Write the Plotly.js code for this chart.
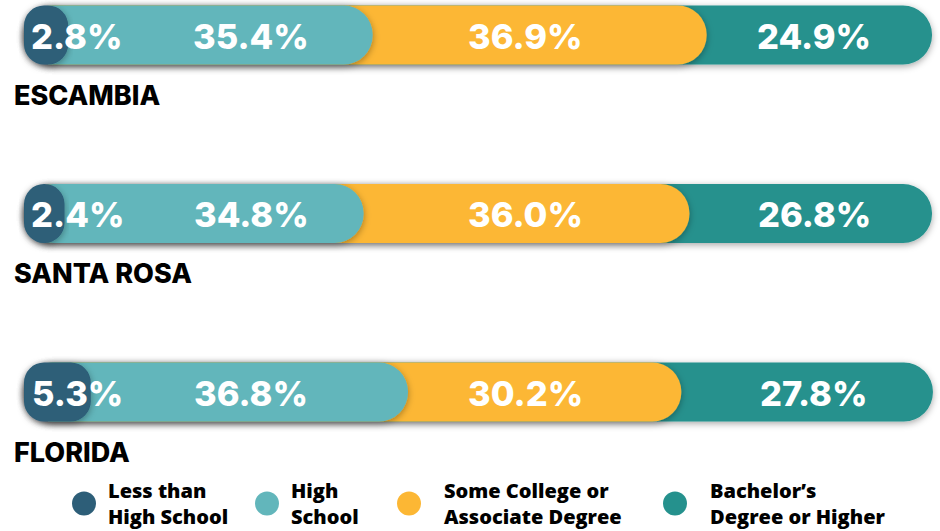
<!DOCTYPE html>
<html>
<head>
<meta charset="utf-8">
<script src="https://cdn.plot.ly/plotly-3.0.1.min.js"></script>
<style>
  html, body { margin: 0; padding: 0; background: #ffffff; }
  #chart { width: 940px; height: 531px; }
</style>
</head>
<body>
<div id="chart"></div>
<script>
// ---- data ----
const regions = ["ESCAMBIA", "SANTA ROSA", "FLORIDA"];
const lessThanHS = [2.8, 2.4, 5.3];
const highSchool = [35.4, 34.8, 36.8];
const someCollege = [36.9, 36.0, 30.2];
const bachelors = [24.9, 26.8, 27.8];
const seriesNames = ["Less than<br>High School", "High<br>School", "Some College or<br>Associate Degree", "Bachelor’s<br>Degree or Higher"];

// ---- style ----
const colors = ["#2d5e78", "#62b6bb", "#fcb734", "#25918d"];
const series = [lessThanHS, highSchool, someCollege, bachelors];
const leftPad = 0.33;      // rounded left cap start (axis units)
const darkCap = 1.75;      // visual allowance for the small first cap
const labelCols = [77, 251, 525, 814];   // px columns for value labels
const W = 940, H = 531;

// cumulative ends per segment
const cum = series.map((s, j) => s.map((v, i) => {
  let t = 0; for (let k = 0; k <= j; k++) t += series[k][i]; return t;
}));

const data = [];
// draw longest first so shorter segments sit on top
for (let j = 3; j >= 0; j--) {
  const ends = cum[j].map(v => v + leftPad + (j === 0 ? darkCap : 0));
  data.push({
    type: "bar",
    orientation: "h",
    y: regions,
    x: ends,
    base: regions.map(() => -leftPad),
    width: 0.33,
    marker: { color: colors[j], cornerradius: j === 0 ? 20 : 30, line: { width: 0 } },
    showlegend: false,
    hoverinfo: "skip"
  });
}
// legend entries
const legendIds = ["legend", "legend2", "legend3", "legend4"];
for (let j = 0; j < 4; j++) {
  data.push({
    type: "scatter", mode: "markers", x: [null], y: [null],
    name: seriesNames[j],
    marker: { color: colors[j], size: 16 },
    legend: legendIds[j], showlegend: true, hoverinfo: "skip"
  });
}

const annotations = [];
regions.forEach((r, i) => {
  series.forEach((s, j) => {
    annotations.push({
      x: labelCols[j] / W, xref: "paper", y: r, yref: "y", yshift: -1,
      text: s[i].toFixed(1) + "%", showarrow: false, xanchor: "center", yanchor: "middle",
      font: { family: "Inter, 'Open Sans', sans-serif", size: 34.5, color: "#ffffff", weight: 800 }
    });
  });
  annotations.push({
    x: 12 / W, xref: "paper", y: r, yref: "y", yshift: -60,
    text: r, showarrow: false, xanchor: "left", yanchor: "middle",
    font: { family: "Inter, 'Open Sans', sans-serif", size: 27, color: "#000000", weight: 800 }
  });
});

const legendX = [60, 243, 374, 640];
const legendItemW = [38, 38, 60, 60];
const legendFont = { family: "'Open Sans', Roboto, sans-serif", size: 20, color: "#000000", weight: 800 };
const layout = {
  width: W, height: H,
  margin: { l: 0, r: 0, t: 0, b: 0 },
  paper_bgcolor: "#ffffff", plot_bgcolor: "#ffffff",
  barmode: "overlay",
  xaxis: { range: [-27 / 9.05, (W - 27) / 9.05], visible: false, fixedrange: true },
  yaxis: { type: "category", categoryarray: regions, range: [2 + (H - 392) / 178.5, -35 / 178.5], visible: false, fixedrange: true },
  annotations: annotations,
  showlegend: true
};
legendIds.forEach((id, j) => {
  layout[id] = {
    x: legendX[j] / W, xref: "paper", xanchor: "left",
    y: 0, yref: "paper", yanchor: "bottom",
    bgcolor: "rgba(0,0,0,0)", borderwidth: 0,
    font: legendFont, orientation: "h", itemwidth: legendItemW[j]
  };
});

const gd = document.getElementById("chart");
Plotly.newPlot(gd, data, layout, { staticPlot: true, displayModeBar: false }).then(function () {
  const svg = gd.querySelector("svg.main-svg");
  const ns = "http://www.w3.org/2000/svg";
  let defs = svg.querySelector("defs");
  const f = document.createElementNS(ns, "filter");
  f.setAttribute("id", "barShadow");
  f.setAttribute("x", "-10%"); f.setAttribute("y", "-40%");
  f.setAttribute("width", "120%"); f.setAttribute("height", "180%");
  const ds = document.createElementNS(ns, "feDropShadow");
  ds.setAttribute("dx", "0"); ds.setAttribute("dy", "2");
  ds.setAttribute("stdDeviation", "3.5");
  ds.setAttribute("flood-color", "#000"); ds.setAttribute("flood-opacity", "0.35");
  f.appendChild(ds); defs.appendChild(f);
  gd.querySelectorAll(".barlayer .point path").forEach(p => p.setAttribute("filter", "url(#barShadow)"));
  // legend groups: legend, legend2, legend3, legend4
  const legendGroups = Array.from(gd.querySelectorAll("g")).filter(g => /^legend\d*$/.test(g.getAttribute("class") || ""));
  legendGroups.forEach(g => {
    const t = g.getAttribute("transform") || "";
    g.setAttribute("transform", t + " translate(0,5)");
    g.querySelectorAll(".scatterpts").forEach(p => {
      const tp = p.getAttribute("transform") || "";
      p.setAttribute("transform", tp + " scale(1.5)");
    });
  });
});
</script>
</body>
</html>
